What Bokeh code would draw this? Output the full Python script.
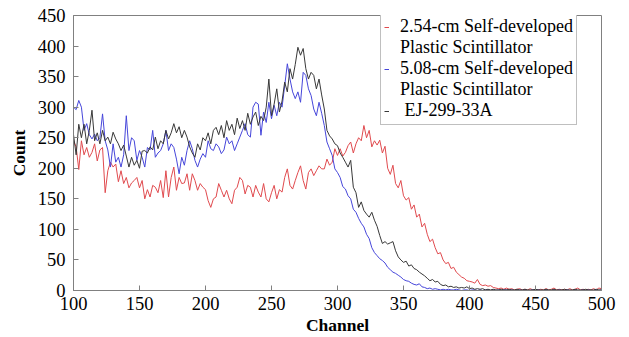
from bokeh.plotting import figure
from bokeh.models import Legend, LegendItem, FixedTicker, Range1d
from bokeh.embed import file_html
from bokeh.resources import INLINE

channels = list(range(100, 501, 2))

red_254cm = [
    245, 235, 198, 245, 222, 234, 218, 226, 240, 212,  # 100-118
    230, 234, 160, 196, 210, 202, 207, 178, 196, 175,  # 120-138
    185, 168, 176, 180, 185, 168, 180, 150, 165, 153,  # 140-158
    172, 169, 160, 180, 152, 196, 153, 185, 202, 164,  # 160-178
    185, 175, 176, 191, 164, 191, 180, 164, 175, 169,  # 180-198
    165, 147, 136, 150, 153, 175, 164, 153, 164, 150,  # 200-218
    142, 164, 169, 185, 180, 158, 172, 169, 153, 172,  # 220-238
    161, 153, 175, 150, 145, 160, 172, 150, 165, 161,  # 240-258
    185, 199, 172, 166, 180, 193, 204, 180, 166, 193,  # 260-278
    199, 188, 196, 204, 199, 199, 215, 205, 210, 232,  # 280-298
    221, 232, 220, 226, 237, 243, 225, 240, 250, 245,  # 300-318
    270, 250, 262, 235, 245, 238, 246, 225, 236, 200,  # 320-338
    190, 205, 175, 168, 180, 155, 148, 152, 133, 140,  # 340-358
    120, 125, 104, 110, 92, 80, 84, 70, 60, 62,        # 360-378
    50, 44, 46, 36, 38, 30, 26, 22, 20, 16,            # 380-398
    15, 14, 12, 18, 10, 8, 9, 7, 8, 5,                 # 400-418
    4, 3, 4, 2, 4, 2, 3, 1, 2, 3,                      # 420-438
    1, 2, 1, 3, 1, 2, 1, 2, 1, 3,                      # 440-458
    1, 2, 4, 1, 2, 1, 2, 1, 3, 1,                      # 460-478
    2, 4, 1, 2, 1, 2, 1, 3, 1, 4,                      # 480-498
    3,                                                 # 500
]

blue_508cm = [
    300, 296, 311, 300, 262, 273, 255, 248, 256, 245,  # 100-118
    250, 289, 245, 230, 202, 240, 210, 218, 202, 222,  # 120-138
    286, 229, 250, 245, 213, 229, 218, 202, 234, 230,  # 140-158
    262, 218, 225, 229, 240, 262, 229, 240, 234, 215,  # 160-178
    191, 218, 205, 229, 245, 232, 213, 202, 215, 224,  # 180-198
    218, 245, 232, 229, 240, 235, 224, 230, 251, 240,  # 200-218
    245, 229, 240, 251, 262, 273, 255, 251, 300, 308,  # 220-238
    305, 254, 292, 275, 308, 281, 303, 286, 308, 300,  # 240-258
    335, 371, 346, 325, 314, 325, 308, 357, 352, 330,  # 260-278
    319, 297, 286, 308, 290, 270, 243, 232, 221, 199,  # 280-298
    193, 185, 170, 166, 155, 150, 133, 128, 118, 110,  # 300-318
    104, 92, 85, 70, 62, 57, 52, 49, 45, 38,           # 320-338
    34, 30, 28, 25, 22, 18, 16, 15, 12, 10,            # 340-358
    9, 11, 6, 5, 3, 4, 2, 3, 2, 1,                     # 360-378
    2, 1, 2, 1, 1, 2, 1, 0, 1, 1,                      # 380-398
    0, 1, 1, 0, 1, 0, 1, 1, 0, 1,                      # 400-418
    0, 1, 0, 1, 1, 0, 1, 0, 0, 1,                      # 420-438
    0, 1, 0, 0, 1, 0, 1, 0, 0, 1,                      # 440-458
    0, 0, 1, 0, 1, 0, 0, 1, 0, 0,                      # 460-478
    1, 0, 0, 1, 0, 1, 0, 0, 1, 0,                      # 480-498
    1,                                                 # 500
]

black_ej299 = [
    255, 222, 272, 250, 272, 240, 262, 295, 245, 258,  # 100-118
    240, 262, 245, 251, 240, 259, 248, 240, 229, 238,  # 120-138
    220, 202, 218, 205, 213, 200, 228, 229, 225, 235,  # 140-158
    230, 251, 232, 245, 240, 262, 248, 258, 273, 258,  # 160-178
    268, 250, 262, 251, 235, 225, 218, 240, 230, 250,  # 180-198
    245, 258, 240, 262, 267, 255, 270, 250, 278, 262,  # 200-218
    272, 255, 282, 265, 278, 262, 290, 272, 284, 292,  # 220-238
    270, 285, 278, 300, 346, 286, 305, 330, 292, 310,  # 240-258
    341, 325, 363, 346, 370, 398, 385, 396, 363, 346,  # 260-278
    357, 352, 330, 346, 320, 297, 262, 253, 248, 240,  # 280-298
    237, 225, 218, 210, 202, 213, 169, 160, 136, 145,  # 300-318
    131, 125, 120, 128, 115, 105, 90, 77, 80, 76,      # 320-338
    78, 80, 65, 55, 50, 46, 48, 40, 42, 36,            # 340-358
    34, 30, 27, 24, 20, 16, 18, 14, 15, 10,            # 360-378
    8, 9, 6, 7, 5, 6, 4, 5, 4, 6,                      # 380-398
    3, 4, 2, 3, 2, 3, 1, 2, 1, 2,                      # 400-418
    1, 1, 2, 1, 1, 2, 1, 1, 2, 1,                      # 420-438
    1, 2, 1, 1, 1, 2, 1, 1, 1, 2,                      # 440-458
    1, 1, 2, 1, 1, 1, 2, 1, 1, 1,                      # 460-478
    2, 1, 1, 1, 2, 1, 1, 1, 2, 1,                      # 480-498
    1,                                                 # 500
]

# legend rows: (first line, continuation line)
series_labels = [
    ("2.54-cm Self-developed", "Plastic Scintillator"),
    ("5.08-cm Self-developed", "Plastic Scintillator"),
    (" EJ-299-33A", None),
]
x_ticks = [100, 150, 200, 250, 300, 350, 400, 450, 500]
y_ticks = [0, 50, 100, 150, 200, 250, 300, 350, 400, 450]

FONT = "Liberation Serif"
GRAY = "#808080"

p = figure(width=629, height=337, output_backend="svg", toolbar_location=None,
           x_range=Range1d(100, 500), y_range=Range1d(0, 450),
           min_border_left=73, min_border_right=28, min_border_top=15,
           min_border_bottom=47, background_fill_color="white",
           border_fill_color="white")

p.grid.visible = False
p.outline_line_color = GRAY
p.outline_line_width = 1

for ax, ticks in ((p.xaxis, x_ticks), (p.yaxis, y_ticks)):
    ax.ticker = FixedTicker(ticks=ticks)
    ax.axis_line_color = GRAY
    ax.major_tick_line_color = GRAY
    ax.major_tick_in = 5
    ax.major_tick_out = 0
    ax.minor_tick_line_color = None
    ax.major_label_text_font = FONT
    ax.major_label_text_font_size = "18.5px"
    ax.major_label_text_color = "black"
    ax.axis_label_text_font = FONT
    ax.axis_label_text_font_size = "17.5px"
    ax.axis_label_text_font_style = "bold"
    ax.axis_label_text_color = "black"

p.xaxis.axis_label = "Channel"
p.yaxis.axis_label = "Count"
p.xaxis.major_label_standoff = 6
p.xaxis.axis_label_standoff = 2
p.yaxis.major_label_standoff = 8
p.yaxis.axis_label_standoff = 6

r1 = p.line(channels, red_254cm, line_color="#e04a4e", line_width=1)
r2 = p.line(channels, blue_508cm, line_color="#4646da", line_width=1)
r3 = p.line(channels, black_ej299, line_color="#383838", line_width=1)
# invisible renderer used only for legend continuation lines (no glyph drawn)
blank = p.line([], [], line_color=None)

items = []
for (first, second), r in zip(series_labels, (r1, r2, r3)):
    items.append(LegendItem(label=first, renderers=[r]))
    if second:
        items.append(LegendItem(label=second, renderers=[blank]))

legend = Legend(items=items, location=(307, 165))
legend.label_text_font = FONT
legend.label_text_font_size = "18px"
legend.label_text_color = "black"
legend.glyph_width = 5
legend.glyph_height = 16
legend.label_standoff = 11
legend.label_height = 16
legend.spacing = 0
legend.padding = 3
legend.margin = 0
legend.border_line_color = GRAY
legend.border_line_width = 1
legend.background_fill_alpha = 1
p.add_layout(legend, "center")

open("out.html", "w").write(file_html(p, INLINE))
